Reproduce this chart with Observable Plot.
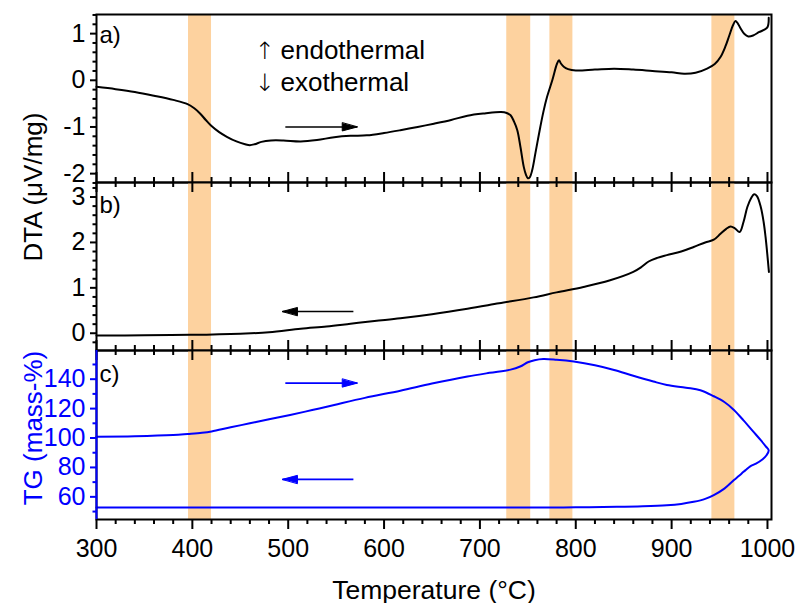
<!DOCTYPE html>
<html><head><meta charset="utf-8">
<script src="https://cdn.jsdelivr.net/npm/d3@7"></script>
<script src="https://cdn.jsdelivr.net/npm/@observablehq/plot@0.6"></script>
<style>
body{margin:0;background:#fff;}
#chart{position:relative;width:797px;height:603px;font-family:"Liberation Sans",Arial,sans-serif;}
#chart svg{display:block;}
#dtaLabel{position:absolute;left:33px;top:187px;transform:translate(-50%,-50%) rotate(-90deg);white-space:nowrap;font-size:26px;line-height:1;color:#000;}
</style></head><body><div id="chart"><div id="dtaLabel">DTA (μV/mg)</div></div>
<script>
// ---- data ----
const dtaHeatT = [300,320,340,360,380,395,402,408,414,420,428,436,446,455,460,465,472,482,495,513,530,548,565,582,600,617,635,652,670,687,705,722,728,732,735.5,739,742.3,745.8,748,750,752,754.5,758,763,766.5,770,775.5,780.5,782.5,784.5,787.5,792,800,820,840,860,880,900,913,925,937,945,951,956,960,964,966.6,969,972,976,980,985,991,999.7,1001.3];
const dtaHeatV = [-0.14,-0.19,-0.25,-0.33,-0.42,-0.51,-0.60,-0.71,-0.85,-0.98,-1.11,-1.21,-1.31,-1.37,-1.39,-1.37,-1.32,-1.29,-1.29,-1.31,-1.28,-1.22,-1.19,-1.18,-1.13,-1.07,-1.00,-0.93,-0.85,-0.76,-0.71,-0.68,-0.70,-0.75,-0.88,-1.07,-1.43,-1.86,-2.02,-2.10,-2.08,-1.93,-1.55,-1.00,-0.65,-0.36,0.00,0.36,0.43,0.36,0.29,0.24,0.21,0.23,0.25,0.23,0.20,0.17,0.14,0.16,0.25,0.35,0.50,0.72,0.95,1.18,1.27,1.22,1.11,0.99,0.94,0.96,1.03,1.13,1.34];

const dtaCoolT = [300,350,400,450,480,513,540,565,590,617,650,687,720,756,780,808,835,860,868,876,885,895,910,923,935,944,951,957,961.5,966,971,975,979,983,986,989,993,996,998,1000,1001.5];
const dtaCoolV = [-0.05,-0.045,-0.035,-0.01,0.02,0.10,0.15,0.21,0.27,0.33,0.42,0.54,0.66,0.79,0.90,1.02,1.16,1.35,1.45,1.58,1.66,1.72,1.80,1.90,2.00,2.06,2.19,2.30,2.35,2.31,2.23,2.45,2.78,2.98,3.06,3.02,2.78,2.45,2.12,1.70,1.35];

const tgHeatT = [300,340,380,395,410,420,440,460,480,502,525,548,580,617,650,687,710,732,742,750,757,766,780,798,820,840,860,881,895,915,930,944,955,965,975,985,993,998,1001.3];
const tgHeatV = [100.9,101.2,102.0,102.7,103.5,104.4,107.3,110.0,112.8,115.7,119.0,122.5,127.3,132.2,137.0,141.8,144.3,146.5,148.6,151.5,152.9,153.7,153.2,152.0,149.5,146.3,142.3,138.4,136.1,134.2,132.5,128.4,124.5,119.1,112.0,104.5,98.5,94.5,91.6];

const tgCoolT = [999,995,988,982,978,975,970,965,955,944,935,923,910,895,870,843,800,756,700,600,500,400,300];
const tgCoolV = [88.3,85.6,82.6,80.7,78.6,77.0,74.1,71.4,65.6,61.2,58.6,56.6,55.2,54.3,53.6,53.2,52.9,52.7,52.7,52.7,52.7,52.7,52.7];

const bandStart = [396, 728, 773, 942];
const bandEnd   = [420, 753, 797, 966];

const xMajor = [300,400,500,600,700,800,900,1000];
const xTickLabels = ["300","400","500","600","700","800","900","1000"];
const xMinor = d3.range(300, 1001, 20).filter(t => t % 100 !== 0);

const aMajor = [-2,-1,0,1];
const aMinor = d3.range(-11, 8).filter(k => k % 5 !== 0).map(k => k / 5);
const bMajor = [0,1,2,3];
const bMinor = d3.range(-1, 17).filter(k => k % 5 !== 0).map(k => k / 5);
const cMajor = [60,80,100,120,140];
const cMinor = [50,70,90,110,130,150];

// arrows: [x1, x2, y]
const arrowA = [{x1: 497, x2: 572, y: -1}];
const arrowB = [{x1: 568, x2: 494, y: 0.48}];
const arrowCup = [{x1: 497, x2: 572, y: 137.3}];
const arrowCdown = [{x1: 568, x2: 494, y: 71.9}];

// ---- layout ----
const W = 797, ML = 96, MR = 26, FW = W - ML - MR;
const xDomain = [300, 1004.2];
const FONT = '"Liberation Sans", Arial, sans-serif';
const ORANGE = "#FDD29F";
const BLUE = "#0000FF";

const rows = (T, V) => T.map((t, i) => ({t, v: V[i]}));
const bands = bandStart.map((s, i) => ({s, e: bandEnd[i]}));

const head = {draw(ctx, l, r) { ctx.moveTo(0, -l); ctx.lineTo(r, 0); ctx.lineTo(-r, 0); ctx.closePath(); }};

function arrowMarks(data, color) {
  return [
    Plot.link(data, {x1: "x1", x2: "x2", y1: "y", y2: "y", stroke: color, strokeWidth: 1.6}),
    Plot.vector(data, {x: "x2", y: "y", rotate: d => d.x2 > d.x1 ? 90 : -90, length: 15, r: 4, anchor: "end", shape: head, fill: color, stroke: color, strokeWidth: 1})
  ];
}

function xTickMarks(fh, top, bottom) {
  const m = [];
  for (const [vals, L] of [[xMajor, 10], [xMinor, 5]]) {
    if (top === "in") m.push(Plot.tickX(vals, {x: d => d, insetBottom: fh - L, strokeWidth: 2}));
    if (bottom === "in") m.push(Plot.tickX(vals, {x: d => d, insetTop: fh - L, strokeWidth: 2}));
    if (bottom === "out") m.push(Plot.tickX(vals, {x: d => d, insetTop: fh, insetBottom: -L, strokeWidth: 2}));
  }
  return m;
}

function yTickMarks(major, minor, color) {
  return [
    Plot.tickY(major, {y: d => d, insetLeft: -6, insetRight: FW, stroke: color, strokeWidth: 2}),
    Plot.tickY(minor, {y: d => d, insetLeft: -3.5, insetRight: FW, stroke: color, strokeWidth: 2}),
    Plot.text(major, {y: d => d, text: d => String(d), frameAnchor: "left", textAnchor: "end", dx: -11, fontSize: 25, fill: color})
  ];
}

function panel(height, marginTop, marginBottom, yDomain, marks) {
  return Plot.plot({
    width: W, height, marginLeft: ML, marginRight: MR, marginTop, marginBottom,
    x: {domain: xDomain, axis: null},
    y: {domain: yDomain, axis: null},
    style: {fontFamily: FONT, background: "transparent", overflow: "visible", color: "black"},
    marks
  });
}

const bandMark = Plot.rect(bands, {x1: "s", x2: "e", fill: ORANGE});
const letter = (t, dy) => Plot.text([t], {frameAnchor: "top-left", textAnchor: "start", lineAnchor: "top", dx: 3, dy, fontSize: 24});

const pA = panel(182, 14, 0, [-2.19, 1.41], [
  bandMark,
  Plot.line(rows(dtaHeatT, dtaHeatV), {x: "t", y: "v", curve: "catmull-rom", stroke: "black", strokeWidth: 2}),
  ...arrowMarks(arrowA, "black"),
  Plot.text(["↑"], {frameAnchor: "top-left", textAnchor: "middle", lineAnchor: "bottom", dx: 168, dy: 44.5, fontSize: 24, fontFamily: "DejaVu Sans", fontWeight: 200}),
  Plot.text(["↓"], {frameAnchor: "top-left", textAnchor: "middle", lineAnchor: "bottom", dx: 168, dy: 76, fontSize: 24, fontFamily: "DejaVu Sans", fontWeight: 200}),
  Plot.text(["endothermal"], {frameAnchor: "top-left", textAnchor: "start", lineAnchor: "bottom", dx: 184, dy: 44.5, fontSize: 26}),
  Plot.text(["exothermal"], {frameAnchor: "top-left", textAnchor: "start", lineAnchor: "bottom", dx: 184, dy: 76, fontSize: 26}),
  letter("a)", 11),
  ...xTickMarks(168, null, "in"),
  ...yTickMarks(aMajor, aMinor, "black"),
  Plot.frame({stroke: "black", strokeWidth: 2})
]);

const pB = panel(168, 0, 0, [-0.38, 3.32], [
  bandMark,
  Plot.line(rows(dtaCoolT, dtaCoolV), {x: "t", y: "v", curve: "catmull-rom", stroke: "black", strokeWidth: 2}),
  ...arrowMarks(arrowB, "black"),
  letter("b)", 13),
  ...xTickMarks(168, "in", "in"),
  ...yTickMarks(bMajor, bMinor, "black"),
  Plot.frame({stroke: "black", strokeWidth: 2})
]);

const tgLoop = rows(tgHeatT, tgHeatV).concat(rows(tgCoolT, tgCoolV));

const pC = panel(253, 0, 84, [44.6, 159.5], [
  bandMark,
  Plot.line(tgLoop, {x: "t", y: "v", curve: "catmull-rom", stroke: BLUE, strokeWidth: 2}),
  ...arrowMarks(arrowCup, BLUE),
  ...arrowMarks(arrowCdown, BLUE),
  letter("c)", 14),
  ...xTickMarks(169, "in", "out"),
  Plot.frame({stroke: "black", strokeWidth: 2}),
  Plot.ruleX([300], {stroke: BLUE, strokeWidth: 2}),
  ...yTickMarks(cMajor, cMinor, BLUE),
  Plot.text(xMajor, {x: d => d, text: (d, i) => xTickLabels[i], frameAnchor: "bottom", lineAnchor: "top", dy: 20, fontSize: 25}),
  Plot.text(["Temperature (°C)"], {frameAnchor: "bottom", textAnchor: "middle", lineAnchor: "bottom", dy: 79, fontSize: 26.5}),
  Plot.text(["TG (mass-%)"], {frameAnchor: "left", textAnchor: "middle", rotate: -90, dx: -63, dy: -7, fontSize: 26, fill: BLUE})
]);

const chart = document.getElementById("chart");
chart.append(pA, pB, pC);
</script>
</body></html>
